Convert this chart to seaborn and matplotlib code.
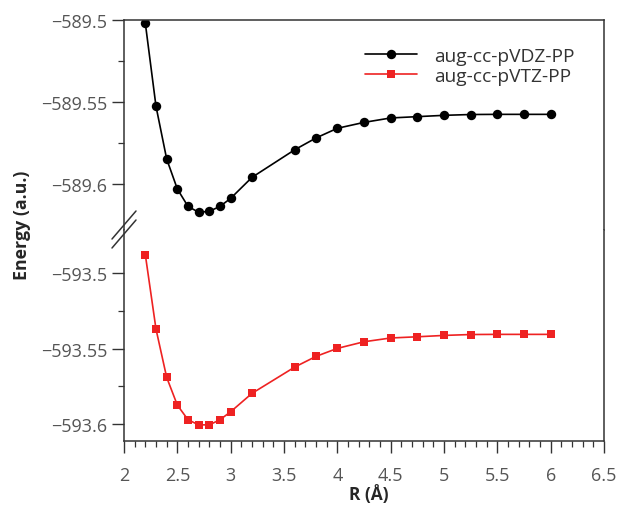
import matplotlib
matplotlib.use("Agg")
import matplotlib.pyplot as plt
from matplotlib.lines import Line2D
from matplotlib.ticker import MultipleLocator, FixedLocator
import seaborn as sns
import pandas as pd

# ---- data ----
r_values = [2.2, 2.3, 2.4, 2.5, 2.6, 2.7, 2.8, 2.9, 3.0, 3.2, 3.6, 3.8, 4.0,
            4.25, 4.5, 4.75, 5.0, 5.25, 5.5, 5.75, 6.0]
e_vdz = [-589.5022, -589.5528, -589.5849, -589.6032, -589.6138, -589.6174,
         -589.6168, -589.6138, -589.6089, -589.5961, -589.5793, -589.5721,
         -589.5662, -589.5626, -589.5599, -589.5591, -589.5583, -589.5578,
         -589.5577, -589.5577, -589.5577]
e_vtz = [-593.4877, -593.5370, -593.5690, -593.5874, -593.5971, -593.6005,
         -593.6005, -593.5971, -593.5918, -593.5796, -593.5622, -593.5551,
         -593.5498, -593.5454, -593.5429, -593.5421, -593.5412, -593.5406,
         -593.5405, -593.5405, -593.5405]
labels = ["aug-cc-pVDZ-PP", "aug-cc-pVTZ-PP"]
x_ticks = [2, 2.5, 3, 3.5, 4, 4.5, 5, 5.5, 6, 6.5]
x_tick_labels = ["2", "2.5", "3", "3.5", "4", "4.5", "5", "5.5", "6", "6.5"]
top_ticks = [-589.5, -589.55, -589.6]
top_tick_labels = ["\u2212589.5", "\u2212589.55", "\u2212589.6"]
bot_ticks = [-593.5, -593.55, -593.6]
bot_tick_labels = ["\u2212593.5", "\u2212593.55", "\u2212593.6"]

df_vdz = pd.DataFrame({"R": r_values, "E": e_vdz})
df_vtz = pd.DataFrame({"R": r_values, "E": e_vtz})

sns.set_style("ticks")
plt.rcParams["font.family"] = ["Open Sans", "DejaVu Sans"]

W, H = 617, 506
fig = plt.figure(figsize=(W / 100, H / 100), dpi=100)

left = 124 / W
width = (604 - 124) / W
y_top, y_break, y_bot = 20.7, 231.0, 441.7
ax_top = fig.add_axes([left, (H - y_break) / H, width, (y_break - y_top) / H])
ax_bot = fig.add_axes([left, (H - y_bot) / H, width, (y_bot - y_break) / H])

tick_color = "#555555"
spine_color = "#333333"

sns.lineplot(data=df_vdz, x="R", y="E", ax=ax_top, color="black", marker="o",
             markersize=6.8, markeredgewidth=0, linewidth=1.2, label=labels[0],
             legend=False)
sns.lineplot(data=df_vtz, x="R", y="E", ax=ax_bot, color="#ee2222", marker="s",
             markersize=6, markeredgewidth=0, linewidth=1.2, label=labels[1],
             legend=False)

for ax in (ax_top, ax_bot):
    ax.set_xlim(2, 6.5)
    ax.set_xlabel("")
    ax.set_ylabel("")
    for s in ax.spines.values():
        s.set_color(spine_color)
        s.set_linewidth(1.1)
    ax.tick_params(axis="both", which="major", direction="out", length=8.5,
                   width=1.0, color=spine_color, labelcolor=tick_color,
                   labelsize=13)
    ax.tick_params(axis="both", which="minor", direction="out", length=4.5,
                   width=0.9, color=spine_color)

ax_top.set_ylim(-589.6282, -589.5)
ax_top.yaxis.set_major_locator(FixedLocator(top_ticks))
ax_top.set_yticklabels(top_tick_labels)
ax_top.yaxis.set_minor_locator(FixedLocator([-589.525, -589.575]))
ax_top.spines["bottom"].set_visible(False)
ax_top.tick_params(axis="x", which="both", bottom=False, labelbottom=False)

ax_bot.set_ylim(-593.611, -593.4713)
ax_bot.yaxis.set_major_locator(FixedLocator(bot_ticks))
ax_bot.set_yticklabels(bot_tick_labels)
ax_bot.yaxis.set_minor_locator(FixedLocator([-593.525, -593.575]))
ax_bot.spines["top"].set_visible(False)
ax_bot.xaxis.set_major_locator(FixedLocator(x_ticks))
ax_bot.set_xticklabels(x_tick_labels)
ax_bot.xaxis.set_minor_locator(MultipleLocator(0.1))
ax_bot.tick_params(axis="x", which="major", pad=10)
ax_bot.set_xlabel("R (\u00c5)", fontsize=12.5, fontweight="bold")
ax_bot.xaxis.set_label_coords((369 - 124) / 480, -(485.5 - 441.7) / 210.7)

fig.text(22 / W, (H - 225) / H, "Energy (a.u.)", rotation=90, fontsize=12.8,
         fontweight="bold", ha="center", va="center")

# legend
h1, l1 = ax_top.get_legend_handles_labels()
h2, l2 = ax_bot.get_legend_handles_labels()
ax_top.legend(h1 + h2, l1 + l2, loc="upper right", frameon=False,
              bbox_to_anchor=(0.975, 0.952), fontsize=13.8, handlelength=2.7,
              handletextpad=0.9, labelspacing=0.1, labelcolor="#333333")

# break marks
for cy in (226, 235):
    fig.add_artist(Line2D([(124 - 12) / W, (124 + 12) / W],
                          [(H - (cy + 14)) / H, (H - (cy - 14)) / H],
                          transform=fig.transFigure, color=spine_color,
                          linewidth=1.1))

fig.savefig("out.png", dpi=100)
